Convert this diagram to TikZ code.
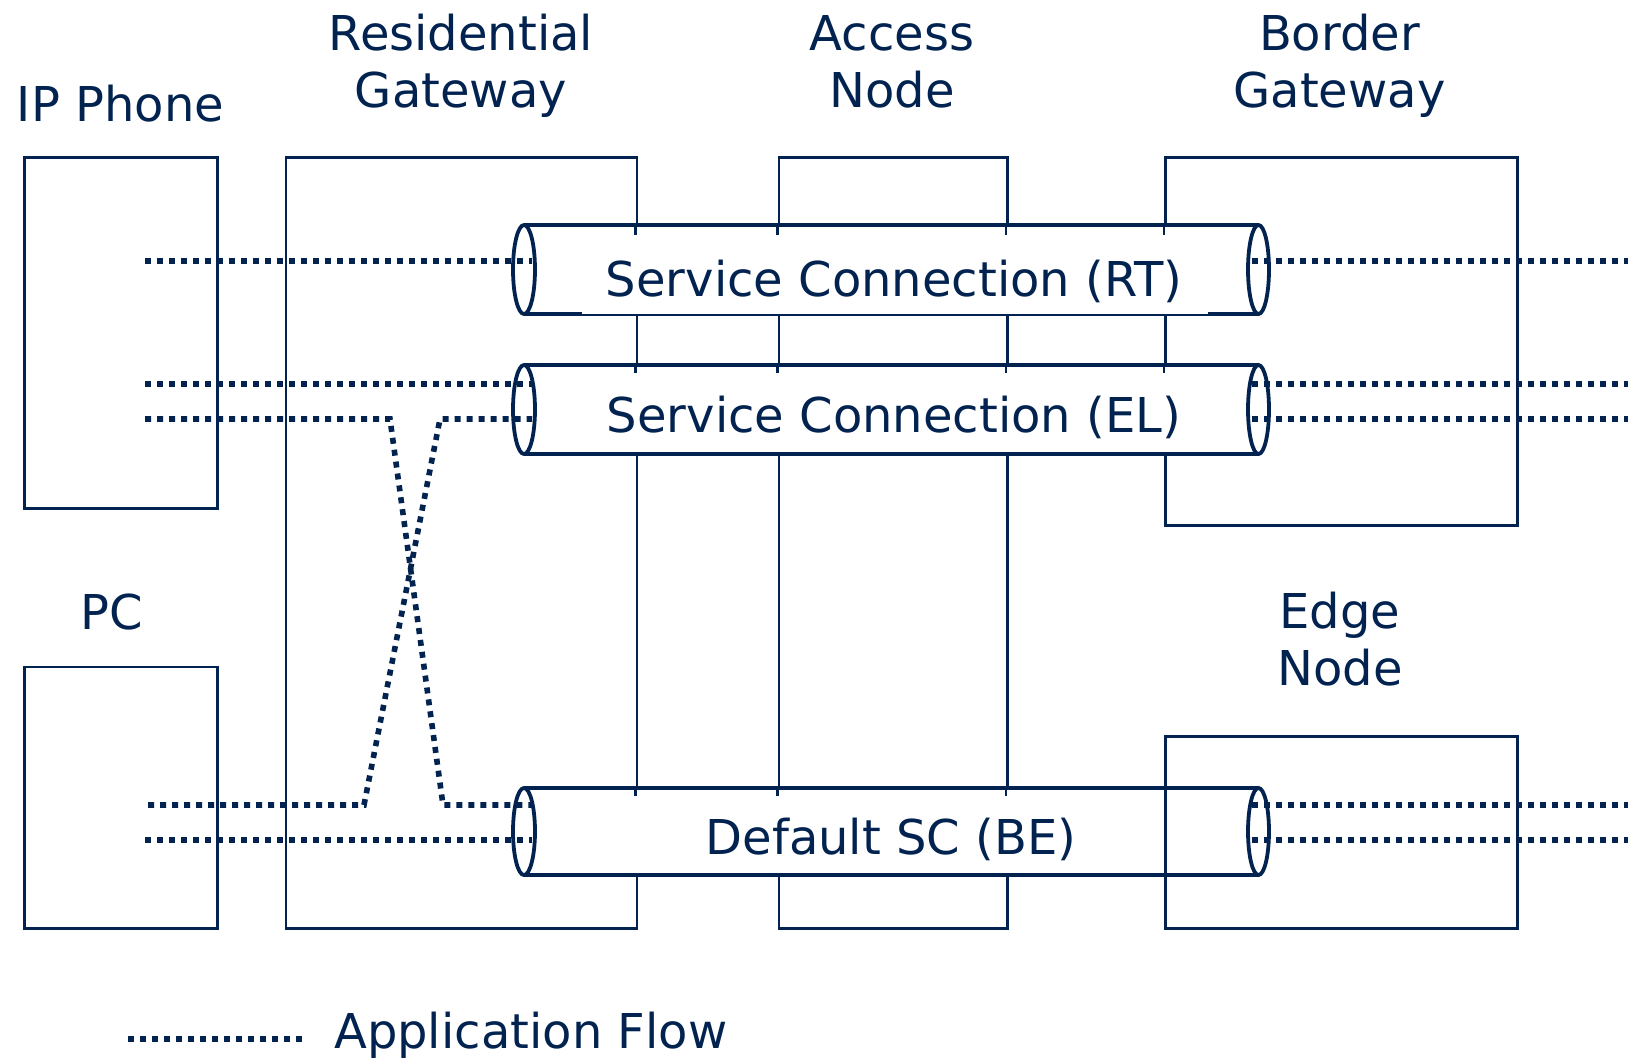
\documentclass[tikz,border=0pt]{standalone}
\usepackage{fontspec}
\setmainfont{DejaVu Sans}
\definecolor{nv}{RGB}{2,35,80}
\newcommand\twoline[2]{\begin{tabular}[t]{@{}c@{}}#1\\#2\end{tabular}}
\newcommand\drawcyl[3]{%
  \fill[white] (524,#1) rectangle (1258.5,#2);
  \draw[cylline] (524,#1) -- (1258.5,#1);
  \draw[cylline] (524,#2) -- (1258.5,#2);
  \draw[cylline,fill=white] (524,#3) ellipse [x radius=11pt, y radius={(#2-#1)/2*1pt}];
  \draw[cylline,fill=white] (1258.5,#3) ellipse [x radius=10.5pt, y radius={(#2-#1)/2*1pt}];
}
\begin{document}
\begin{tikzpicture}[x=1pt,y=-1pt,
  box/.style={draw=nv, line width=2.7pt, inner sep=0pt, anchor=north west},
  cylline/.style={draw=nv, line width=3.8pt},
  stub/.style={draw=nv, line width=2.7pt},
  flow/.style={draw=nv, line width=5.6pt, dash pattern=on 6pt off 6pt},
  lbl/.style={text=nv, font=\fontsize{48pt}{57pt}\selectfont, inner sep=0pt, anchor=base}]
\useasboundingbox (0,0) rectangle (1628,1060);
% boxes
\node[box, minimum width=193.2pt, minimum height=351pt] (ipphone) at (22.8,156) {};
\node[box, minimum width=193.2pt, minimum height=261.5pt] (pc) at (22.8,665.5) {};
\node[box, minimum width=351pt, minimum height=771pt] (rg) at (284.5,156) {};
\node[box, minimum width=228.3pt, minimum height=771pt] (an) at (777.7,156) {};
\node[box, minimum width=352pt, minimum height=368pt] (bg) at (1164,156) {};
% cylinders
\drawcyl{225}{314}{269.5}
\drawcyl{365}{454}{409.5}
\drawcyl{788}{875}{831.5}
% stubs of box edges into cylinder tops
\foreach \x in {635.5,777.7,1006,1164} {
  \draw[stub] (\x,225) -- (\x,235);
  \draw[stub] (\x,365) -- (\x,373);
}
\foreach \x in {635.5,777.7,1006} {
  \draw[stub] (\x,788) -- (\x,796);
}
% edge node box drawn over the BE cylinder
\node[box, minimum width=352pt, minimum height=192pt] (en) at (1164,735) {};
% cylinder labels
\fill[white] (582,282) rectangle (1207.5,313.9);
\node[lbl] (trt) at (894,296) {Service Connection (RT)};
\node[lbl] (tel) at (894,432) {Service Connection (EL)};
\node[lbl] (tbe) at (891,854.5) {Default SC (BE)};
% flow end points
\coordinate (a1) at (145,261);  \coordinate (a2) at (532,261);
\coordinate (a3) at (1252,261); \coordinate (a4) at (1628,261);
\coordinate (b1) at (145,384);  \coordinate (b2) at (532,384);
\coordinate (b3) at (1252,384); \coordinate (b4) at (1628,384);
\coordinate (c1) at (145,419);  \coordinate (c2) at (390,419);
\coordinate (c3) at (443,805);  \coordinate (c4) at (532,805);
\coordinate (d1) at (148,805);  \coordinate (d2) at (364,805);
\coordinate (d3) at (440,419);  \coordinate (d4) at (532,419);
\coordinate (e1) at (145,840);  \coordinate (e2) at (532,840);
\coordinate (f3) at (1252,419); \coordinate (f4) at (1628,419);
\coordinate (g3) at (1252,805); \coordinate (g4) at (1628,805);
\coordinate (h3) at (1252,840); \coordinate (h4) at (1628,840);
% flows
\draw[flow] (a1) -- (a2);
\draw[flow] (a3) -- (a4);
\draw[flow] (b1) -- (b2);
\draw[flow] (b3) -- (b4);
\draw[flow] (c1) -- (c2) -- (c3) -- (c4);
\draw[flow] (d1) -- (d2) -- (d3) -- (d4);
\draw[flow] (e1) -- (e2);
\draw[flow] (f3) -- (f4);
\draw[flow] (g3) -- (g4);
\draw[flow] (h3) -- (h4);
% labels
\node[lbl] (lip) at (120.5,121.5) {IP Phone};
\node[lbl] (lrg) at (461,50) {\twoline{Residential}{Gateway}};
\node[lbl] (lan) at (892,50) {\twoline{Access}{Node}};
\node[lbl] (lbg) at (1339.5,50) {\twoline{Border}{Gateway}};
\node[lbl] (lpc) at (112,629) {PC};
\node[lbl] (len) at (1340,628) {\twoline{Edge}{Node}};
% legend
\coordinate (lg1) at (128,1039);
\coordinate (lg2) at (302,1039);
\draw[flow] (lg1) -- (lg2);
\node[lbl, anchor=base west] (lapp) at (334,1048) {Application Flow};
\end{tikzpicture}
\end{document}
